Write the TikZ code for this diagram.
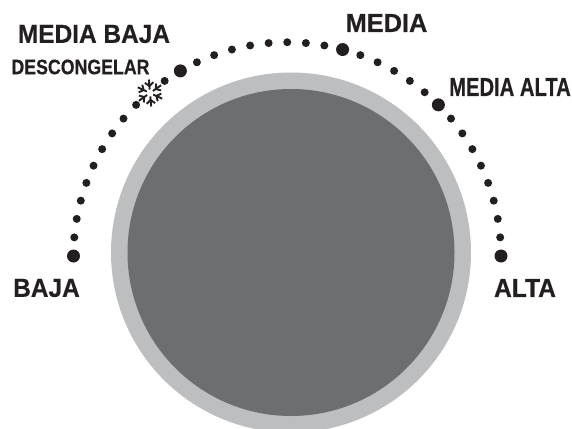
\documentclass[tikz,border=0pt]{standalone}
\usepackage{fontspec}
\setmainfont{Liberation Sans}[BoldFeatures={FakeBold=0.5}]
\usetikzlibrary{calc}
\definecolor{cring}{HTML}{BCBEC0}
\definecolor{cdisc}{HTML}{6D6E71}
\definecolor{cdark}{HTML}{231F20}
\tikzset{
  every picture/.style={x=1pt, y=-1pt},
  bigdot/.style={circle, fill=cdark, inner sep=0pt, minimum size=13pt},
  smalldot/.style={circle, fill=cdark, inner sep=0pt, minimum size=8pt},
  speed/.style={font=\fontsize{26}{28}\selectfont\bfseries, text=cdark, inner sep=0pt},
  small speed/.style={font=\fontsize{21}{23}\selectfont\bfseries, text=cdark, inner sep=0pt},
  flake/.style={draw=cdark, line width=1.9pt},
}

\begin{document}
\begin{tikzpicture}
  \useasboundingbox (0,0) rectangle (572,428);
  \clip (0,0) rectangle (572,428);
  \fill[cring] (291,252.5) circle[radius=180];
  \fill[cdisc] (291,252.5) circle[radius=163.5];
  \coordinate (arc) at (287.25,256);
  \foreach \a in {0,5,...,180}{
    \ifnum\a=130\relax\else
      \node[smalldot] (d\a) at ($(arc)+(\a:213.75 and -213.75)$) {};
    \fi
  }
  \foreach \a in {0,45,75,120,180}{
    \node[bigdot] (b\a) at ($(arc)+(\a:213.75 and -213.75)$) {};
  }
  \coordinate (snow) at (150,93);
  \foreach \r in {25,85,...,325}{
    \draw[flake] ($(snow)+(\r:3.5)$) -- ($(snow)+(\r:13.5)$);
    \draw[flake] ($(snow)+(\r:7)+(\r+50:5.5)$) -- ($(snow)+(\r:7)$) -- ($(snow)+(\r:7)+(\r-50:5.5)$);
  }
  \node[speed, xscale=0.94] (mediabaja) at (94,34) {MEDIA BAJA};
  \node[small speed, xscale=0.845] (descongelar) at (80.5,67) {DESCONGELAR};
  \node[speed, xscale=0.975] (media) at (386.5,23) {MEDIA};
  \node[speed, xscale=0.777] (mediaalta) at (510,87) {MEDIA ALTA};
  \node[speed, xscale=0.94] (baja) at (46.5,288) {BAJA};
  \node[speed, xscale=0.945] (alta) at (525,288) {ALTA};
\end{tikzpicture}
\end{document}
